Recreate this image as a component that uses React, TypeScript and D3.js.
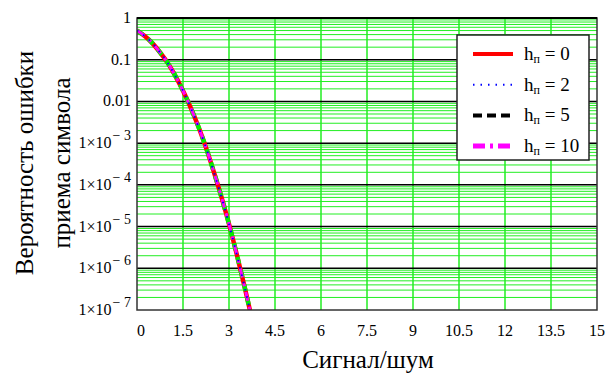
import * as d3 from 'd3';

const snr = [0, 0.25, 0.5, 0.75, 1, 1.25, 1.5, 1.75, 2, 2.25, 2.5, 2.75, 3, 3.25, 3.5, 3.75];
const pe0 = [0.5, 0.37, 0.25, 0.15, 0.084, 0.041, 0.018, 0.0071, 0.0025, 7.8e-4, 2.1e-4, 5.2e-5, 1.15e-5, 2.2e-6, 3.8e-7, 6e-8];
const pe2 = [0.5, 0.37, 0.25, 0.15, 0.084, 0.041, 0.018, 0.0071, 0.0025, 7.8e-4, 2.1e-4, 5.2e-5, 1.15e-5, 2.2e-6, 3.8e-7, 6e-8];
const pe5 = [0.5, 0.37, 0.25, 0.15, 0.084, 0.041, 0.018, 0.0071, 0.0025, 7.8e-4, 2.1e-4, 5.2e-5, 1.15e-5, 2.2e-6, 3.8e-7, 6e-8];
const pe10 = [0.5, 0.37, 0.25, 0.15, 0.084, 0.041, 0.018, 0.0071, 0.0025, 7.8e-4, 2.1e-4, 5.2e-5, 1.15e-5, 2.2e-6, 3.8e-7, 6e-8];
const legendLabels = ['0', '2', '5', '10'];
const xTicks = [0, 1.5, 3, 4.5, 6, 7.5, 9, 10.5, 12, 13.5, 15];
const yExponents = [0, -1, -2, -3, -4, -5, -6, -7];

const left = 137, right = 597, top = 18, bottom = 310;
const FONT = 'Liberation Serif';

export default function App() {
  const x = d3.scaleLinear().domain([0, 15]).range([left, right]);
  const y = d3.scaleLog().domain([1e-7, 1]).range([bottom, top]);

  const minor: number[] = [];
  for (let e = -7; e < 0; e++) for (let k = 2; k <= 9; k++) minor.push(k * Math.pow(10, e));

  const line = d3.line<number>().x((_, i) => x(snr[i])).y(d => y(d)).curve(d3.curveMonotoneX);
  const series = [
    { data: pe0, color: '#ff0000', width: 4.5, dash: undefined },
    { data: pe5, color: '#00ee00', width: 4.5, dash: '7,7' },
    { data: pe10, color: '#ff00ff', width: 3, dash: '9,6,3,6' },
    { data: pe2, color: '#0000ff', width: 2, dash: '1.5,6' },
  ];
  const legendStyles = [
    { color: '#ff0000', width: 4, dash: undefined },
    { color: '#0000ff', width: 2, dash: '1.5,6' },
    { color: '#000000', width: 4, dash: '9,5' },
    { color: '#ff00ff', width: 5, dash: '12,5,3,5' },
  ];

  return (
    <div style={{ position: 'absolute', left: 0, top: 0 }}>
      <style>{"svg text, svg tspan { font-family: 'Liberation Serif', 'Times New Roman', Tinos !important; }"}</style>
      <svg width={611} height={374} style={{ display: 'block' }}>
        <rect x={0} y={0} width={611} height={374} fill="#fff" />
        <clipPath id="plot-clip">
          <rect x={left} y={top} width={right - left} height={bottom - top} />
        </clipPath>

        {/* minor grid */}
        {minor.map(d => (
          <line key={d} x1={left} x2={right} y1={y(d)} y2={y(d)} stroke="#22ee22" strokeWidth={1} />
        ))}
        {xTicks.slice(1, -1).map(d => (
          <line key={d} x1={x(d)} x2={x(d)} y1={top} y2={bottom} stroke="#22ee22" strokeWidth={1.5} />
        ))}
        {/* major grid */}
        {yExponents.slice(1, -1).map(e => (
          <line key={e} x1={left} x2={right} y1={y(Math.pow(10, e))} y2={y(Math.pow(10, e))} stroke="#000" strokeWidth={1.5} />
        ))}

        {/* curves */}
        <g clipPath="url(#plot-clip)">
          {series.map((s, i) => (
            <path key={i} d={line(s.data) || ''} fill="none" stroke={s.color}
              strokeWidth={s.width} strokeDasharray={s.dash} />
          ))}
        </g>

        {/* frame */}
        <rect x={left} y={top} width={right - left} height={bottom - top} fill="none" stroke="#333" strokeWidth={1.5} />
        <line x1={left} x2={right} y1={top} y2={top} stroke="#000" strokeWidth={2} />

        {/* x tick labels */}
        {xTicks.map(d => (
          <text key={d} x={x(d) + (d === 0 ? 4 : 0)} y={336} textAnchor="middle" fontSize={16}
            fontFamily={FONT}>{String(d)}</text>
        ))}

        {/* y tick labels */}
        {yExponents.map(e => (
          <text key={e} x={131} y={y(Math.pow(10, e)) + 5} textAnchor="end" fontSize={16}
            fontFamily={FONT}>
            {e > -3 ? (e === 0 ? '1' : e === -1 ? '0.1' : '0.01') : (
              <>
                <tspan>1×10</tspan>
                <tspan dy={-8} dx={1} fontSize={14}>{'− ' + (-e)}</tspan>
              </>
            )}
          </text>
        ))}

        {/* axis titles */}
        <text x={368} y={368} textAnchor="middle" fontSize={25} fontFamily={FONT}>Сигнал/шум</text>
        <text transform="translate(0,163) rotate(-90)" textAnchor="middle" fontSize={25} fontFamily={FONT}>
          <tspan x={0} y={33}>Вероятность ошибки</tspan>
          <tspan x={0} y={70}>приема символа</tspan>
        </text>

        {/* legend */}
        <rect x={457} y={35} width={132} height={125} fill="#fff" stroke="#222" strokeWidth={1.5} />
        {legendLabels.map((lab, i) => {
          const cy = 54 + i * 30.7;
          const st = legendStyles[i];
          return (
            <g key={lab}>
              <line x1={473} x2={513} y1={cy} y2={cy} stroke={st.color} strokeWidth={st.width} strokeDasharray={st.dash} />
              <text x={524} y={cy + 6} fontSize={19} fontFamily={FONT}>
                <tspan>h</tspan>
                <tspan fontSize={12} dy={3}>п</tspan>
                <tspan dy={-3}>{' = ' + lab}</tspan>
              </text>
            </g>
          );
        })}
      </svg>
    </div>
  );
}
